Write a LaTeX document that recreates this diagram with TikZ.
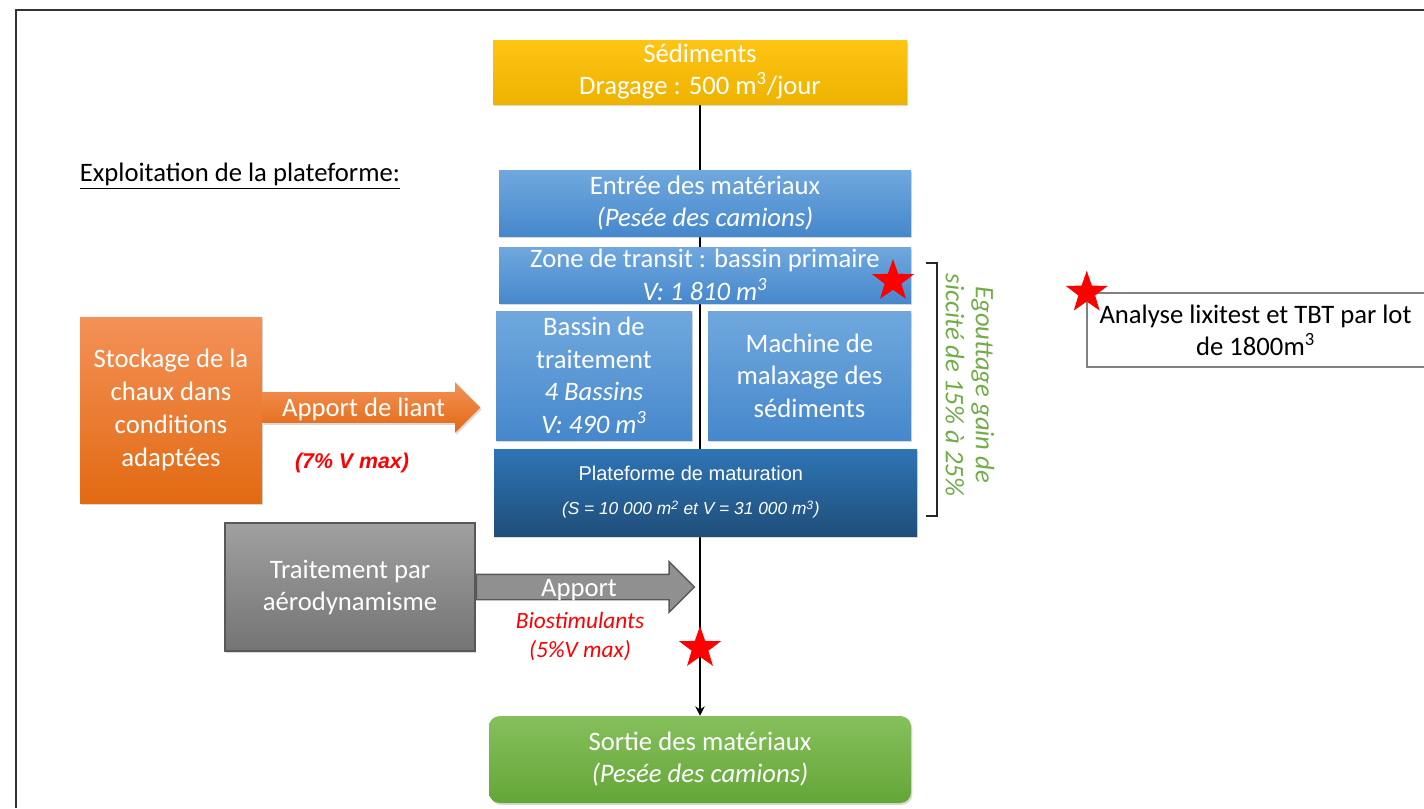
\documentclass[tikz,border=0pt]{standalone}
\usepackage{fontspec}
\setmainfont{Carlito}
\newfontfamily\arialfont{Liberation Sans}
\usetikzlibrary{arrows.meta,positioning,shapes.geometric,shapes.arrows,shadows,backgrounds}
\definecolor{sedYellow}{RGB}{255,197,20}
\definecolor{sedYellowDark}{RGB}{238,178,0}
\definecolor{procBlue}{RGB}{112,168,222}
\definecolor{procBlueDark}{RGB}{70,136,204}
\definecolor{matBlue}{RGB}{46,117,182}
\definecolor{matBlueDark}{RGB}{31,78,121}
\definecolor{limeOrange}{RGB}{244,145,88}
\definecolor{limeOrangeDark}{RGB}{226,106,18}
\definecolor{aeroGray}{RGB}{160,160,160}
\definecolor{aeroGrayDark}{RGB}{116,116,116}
\definecolor{aeroEdge}{RGB}{88,88,88}
\definecolor{exitGreen}{RGB}{134,192,92}
\definecolor{exitGreenDark}{RGB}{100,166,56}
\definecolor{dryGreen}{RGB}{112,173,71}
\definecolor{noteRed}{RGB}{255,0,0}
\definecolor{frameGray}{RGB}{128,128,128}
\tikzset{
  boxbase/.style={text=white, align=center, inner sep=0pt,
    font=\fontsize{20}{24}\selectfont,
    drop shadow={shadow xshift=1pt, shadow yshift=-1.5pt, opacity=0.3}},
  sedbox/.style={boxbase, top color=sedYellow, bottom color=sedYellowDark},
  procbox/.style={boxbase, top color=procBlue, bottom color=procBlueDark,
    font=\fontsize{20}{24.5}\selectfont},
  matbox/.style={boxbase, top color=matBlue, bottom color=matBlueDark,
    font=\arialfont\fontsize{15}{25.5}\selectfont},
  limebox/.style={boxbase, top color=limeOrange, bottom color=limeOrangeDark,
    font=\fontsize{20}{24.75}\selectfont},
  aerobox/.style={boxbase, top color=aeroGray, bottom color=aeroGrayDark,
    draw=aeroEdge, line width=1pt},
  exitbox/.style={boxbase, top color=exitGreen, bottom color=exitGreenDark,
    rounded corners=8pt},
  limearrow/.style={single arrow, single arrow head extend=7.5pt,
    minimum height=163.5pt, minimum width=0pt, inner xsep=2pt, inner ysep=0pt,
    text height=18pt, text depth=4.5pt, text=white, font=\fontsize{20}{24}\selectfont,
    top color=limeOrange, bottom color=limeOrangeDark,
    drop shadow={shadow xshift=1pt, shadow yshift=-1.5pt, opacity=0.3}},
  aeroarrow/.style={single arrow, single arrow head extend=9.4pt,
    minimum height=163.5pt, minimum width=0pt, inner xsep=2pt, inner ysep=0pt,
    text height=15.75pt, text depth=2.25pt, text=white, font=\fontsize{20}{24}\selectfont,
    fill=aeroGray!90!black, draw=aeroEdge, line width=1pt},
  rednote/.style={text=noteRed, align=center, inner sep=0pt},
  redstar/.style={star, star points=5, star point ratio=2.5, fill=noteRed,
    minimum size=33pt, inner sep=0pt},
  mainflow/.style={-{Stealth[length=7pt,width=7pt]}, line width=1.6pt, black},
  bracket/.style={line width=1.1pt, black!85},
  legendline/.style={line width=1.4pt, frameGray},
  frame/.style={line width=1.8pt, black!80}
}
\begin{document}
\begin{tikzpicture}[x=0.75pt,y=-0.75pt]
  \useasboundingbox (0,0) rectangle (1424,808);
  \draw[frame] (16,808) |- (1424,10);
  \node[font=\fontsize{20}{24}\selectfont, inner sep=0pt] (title) at (240,176)
    {\underline{Exploitation de la plateforme:}};
  % central chain
  \node[sedbox, minimum width=310.5pt, minimum height=48pt] (sed) at (700,72)
    {Sédiments\\Dragage : 500 m\textsuperscript{3}/jour};
  \node[procbox, minimum width=309pt, minimum height=49.5pt] (entree) at (705,203)
    {Entrée des matériaux\\\textit{(Pesée des camions)}};
  \node[procbox, minimum width=309pt, minimum height=42pt] (zone) at (705,275)
    {Zone de transit : bassin primaire\\\textit{V: 1 810 m\textsuperscript{3}}};
  \node[procbox, minimum width=147pt, minimum height=96.75pt] (bassin) at (594,375.5)
    {Bassin de\\traitement\\\textit{4 Bassins}\\\textit{V: 490 m\textsuperscript{3}}};
  \node[procbox, minimum width=152.25pt, minimum height=96.75pt] (machine) at (809.5,375.5)
    {Machine de\\malaxage des\\sédiments};
  \node[matbox, minimum width=317.25pt, minimum height=65.25pt] (matur) at (705.5,492.5)
    {Plateforme de maturation\hspace*{22pt}\\{\fontsize{13}{25.5}\selectfont\itshape (S = 10 000 m\textsuperscript{2} et V = 31 000 m\textsuperscript{3})}\hspace*{22pt}};
  \node[exitbox, minimum width=316.5pt, minimum height=65.25pt] (sortie) at (700,759.5)
    {Sortie des matériaux\\\textit{(Pesée des camions)}};
  \begin{scope}[on background layer]
    \draw[mainflow] (sed.south) -- (sortie.north);
  \end{scope}
  % side inputs
  \node[limebox, minimum width=136.5pt, minimum height=139.5pt] (stock) at (171,410)
    {Stockage de la\\chaux dans\\conditions\\adaptées};
  \node[limearrow, anchor=tail] (liant) at (262,407.5) {Apport de liant};
  \node[rednote, font=\arialfont\bfseries\itshape\fontsize{16}{19}\selectfont] (liantmax) at (352,463)
    {(7\% V max)};
  \node[aerobox, minimum width=187.5pt, minimum height=96pt] (aero) at (350,587)
    {Traitement par\\aérodynamisme};
  \node[aeroarrow, anchor=tail] (apport) at (aero.east) {Apport};
  \node[rednote, font=\itshape\fontsize{17.5}{21.75}\selectfont] (biomax) at (580,636.5)
    {Biostimulants\\(5\%V max)};
  % drainage bracket
  \coordinate (brtop) at (937,263);
  \coordinate (brbot) at (937,516);
  \draw[bracket] ([xshift=-8pt]brtop) -- (brtop) -- (brbot) -- ([xshift=-8pt]brbot);
  \node[rotate=-90, text=dryGreen, align=center, inner sep=0pt,
    font=\itshape\fontsize{20}{22.5}\selectfont] (dry) at (970,385)
    {Egouttage gain de\\siccité de 15\% à 25\%};
  % analysis marks
  \node[redstar] (starzone) at (893,281) {};
  \node[redstar] (starexit) at (700,648) {};
  \node[align=center, inner sep=0pt, minimum width=252.75pt, minimum height=55.5pt,
    font=\fontsize{20}{24}\selectfont] (legend) at (1255.5,330)
    {Analyse lixitest et TBT par lot\\de 1800m\textsuperscript{3}};
  \draw[legendline] (legend.north east) -- (legend.north west) -- (legend.south west) -- (legend.south east);
  \node[redstar] (starlegend) at (legend.north west) {};
\end{tikzpicture}
\end{document}
